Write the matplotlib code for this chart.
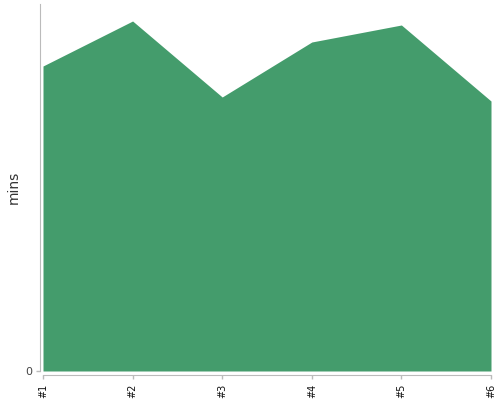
import matplotlib
matplotlib.use("Agg")
import matplotlib.pyplot as plt

# Values (arbitrary units, axis shows only 0)
runs = ['#1', '#2', '#3', '#4', '#5', '#6']
mins = [305, 350, 274, 329, 346, 270]
y_max = 367

fig = plt.figure(figsize=(5, 4), dpi=100)
ax = fig.add_axes([43 / 500, 29 / 400, 448 / 500, 367 / 400])

x = list(range(len(runs)))
ax.fill_between(x, 0, mins, color='#449c6c', linewidth=0)

ax.set_xlim(0, len(runs) - 1)
ax.set_ylim(0, y_max)

for side in ['top', 'right']:
    ax.spines[side].set_visible(False)
ax.spines['left'].set_position(('outward', 2.5))
ax.spines['bottom'].set_position(('outward', 3))
ax.spines['left'].set_color('#bbbbbb')
ax.spines['bottom'].set_color('#bbbbbb')
ax.tick_params(axis='both', colors='#bbbbbb', length=3, width=1)
ax.tick_params(axis='x', labelcolor='#111111', pad=3, labelrotation=90, labelsize=7)
ax.tick_params(axis='y', labelcolor='#444444', pad=2, labelsize=8)

ax.set_xticks(x)
ax.set_xticklabels(runs)
ax.set_yticks([0])
ax.set_yticklabels(['0'])
ax.set_ylabel('mins', fontsize=10, color='#333333')
ax.yaxis.set_label_coords(-0.05, 0.5)

fig.savefig('out.png', dpi=100)
